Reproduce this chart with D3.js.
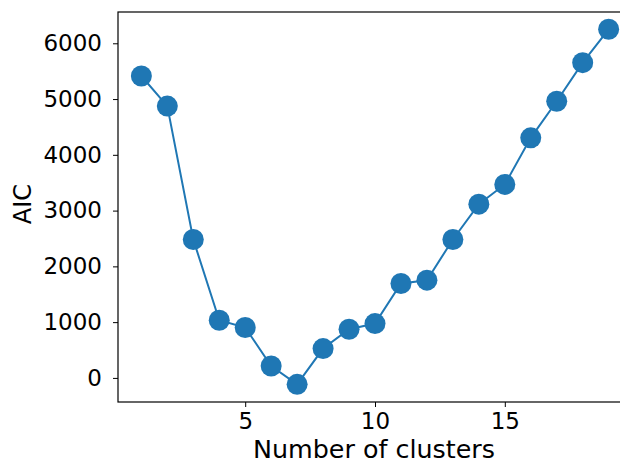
<!DOCTYPE html>
<html><head><meta charset="utf-8">
<script src="https://cdn.jsdelivr.net/npm/d3@7"></script>
<style>body{margin:0;background:#fff}svg{display:block}text{font-family:"DejaVu Sans",sans-serif;fill:#000}</style>
</head><body>
<script>
const clusters = [1,2,3,4,5,6,7,8,9,10,11,12,13,14,15,16,17,18,19];
const aic = [5413,4874,2482,1034,903,214,-115,526,872,974,1692,1752,2482,3116,3469,4305,4960,5652,6251];
const xTicks = [5,10,15];
const yTicks = [0,1000,2000,3000,4000,5000,6000];

const W=620,H=461;
const L=118,T=12,R=632,B=402;
const svg=d3.select("body").append("svg").attr("width",W).attr("height",H);
const x=d3.scaleLinear().domain([0.1,19.9]).range([L,R]);
const y=d3.scaleLinear().domain([-432,6561]).range([B,T]);

const fs=23;
const gx=svg.append("g").attr("transform",`translate(0,${B})`)
  .call(d3.axisBottom(x).tickValues(xTicks).tickFormat(d3.format("d")).tickSize(5).tickPadding(6));
const gy=svg.append("g").attr("transform",`translate(${L},0)`)
  .call(d3.axisLeft(y).tickValues(yTicks).tickFormat(d3.format("d")).tickSize(5).tickPadding(11));
[gx,gy].forEach(g=>{g.select(".domain").remove();g.selectAll("line").attr("stroke","#000").attr("stroke-width",1);
  g.selectAll("text").attr("font-size",fs).attr("font-family","DejaVu Sans");});

svg.append("rect").attr("x",L).attr("y",T).attr("width",R-L).attr("height",B-T)
  .attr("fill","none").attr("stroke","#000").attr("stroke-width",1.2);

const line=d3.line().x((d,i)=>x(clusters[i])).y(d=>y(d));
svg.append("path").datum(aic).attr("d",line).attr("fill","none").attr("stroke","#1f77b4").attr("stroke-width",2);
svg.selectAll("circle.pt").data(aic).enter().append("circle").attr("class","pt")
  .attr("cx",(d,i)=>x(clusters[i])).attr("cy",d=>y(d)).attr("r",10.5).attr("fill","#1f77b4");

svg.append("text").attr("x",374).attr("y",458).attr("text-anchor","middle").attr("font-size",24.5)
  .attr("textLength",242).attr("lengthAdjust","spacingAndGlyphs").text("Number of clusters");
svg.append("text").attr("transform",`translate(31,204) rotate(-90)`).attr("text-anchor","middle").attr("font-size",24)
  .text("AIC");
</script>
</body></html>
